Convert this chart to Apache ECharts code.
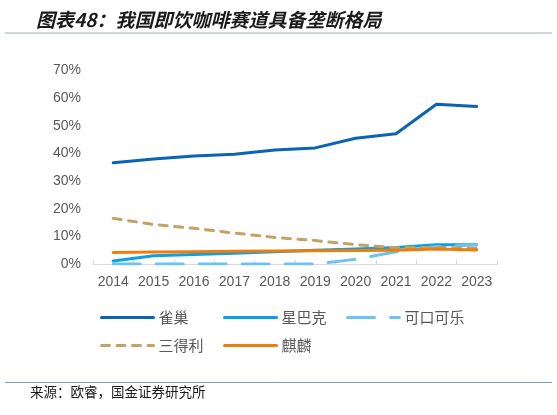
<!DOCTYPE html>
<html>
<head>
<meta charset="utf-8">
<script src="https://cdn.jsdelivr.net/npm/echarts@6/dist/echarts.min.js"></script>
<style>
html,body{margin:0;padding:0;background:#fff;}
#c{width:557px;height:415px;}
</style>
</head>
<body>
<div id="c"></div>
<script>
var years = ['2014','2015','2016','2017','2018','2019','2020','2021','2022','2023'];
var nestle   = [36.6, 38.0, 39.1, 39.7, 41.2, 42.0, 45.5, 47.1, 57.8, 57.0];
var starbucks= [1.1, 3.0, 3.4, 3.9, 4.4, 5.0, 5.4, 6.0, 7.0, 7.0];
var cocacola = [0, 0, 0, 0, 0, 0, 1.7, 4.4, 6.3, 7.0];
var suntory  = [16.5, 14.3, 12.9, 11.2, 9.6, 8.5, 7.0, 5.9, 6.0, 5.7];
var kirin    = [4.2, 4.3, 4.4, 4.6, 4.7, 4.8, 4.9, 5.0, 5.4, 5.1];
var seriesNames = ['雀巢', '星巴克', '可口可乐', '三得利', '麒麟'];

var chart = echarts.init(document.getElementById('c'));
var FONT = 'Liberation Sans, Arial, sans-serif';
var CJK = '"Noto Sans CJK SC", sans-serif';
function ser(name, data, color, type, z) {
  return {
    name: name, type: 'line', data: data, symbol: 'none', z: z,
    lineStyle: {color: color, width: 3, type: type, cap: 'round', join: 'round'},
    itemStyle: {color: color}
  };
}
var legendPos = [[100, 310], [223, 310], [346, 310], [100, 338], [223, 338]];
var legends = seriesNames.map(function (n, i) {
  return {
    data: [n], left: legendPos[i][0], top: legendPos[i][1], padding: 0,
    itemWidth: 52, itemHeight: 14, itemGap: 4,
    itemStyle: {opacity: 0},
    lineStyle: {width: 3},
    textStyle: {color: '#595959', fontSize: 15, fontFamily: CJK}
  };
});
chart.setOption({
  animation: false,
  textStyle: {fontFamily: FONT},
  title: {
    text: '图表48：我国即饮咖啡赛道具备垄断格局',
    left: 31, top: 5,
    textStyle: {fontFamily: CJK, fontSize: 19, fontWeight: 'bold', fontStyle: 'italic', color: '#1a1a1a'}
  },
  graphic: [
    {type: 'line', shape: {x1: 5, y1: 33, x2: 552, y2: 33}, style: {stroke: '#9bb1c6', lineWidth: 1}},
    {type: 'line', shape: {x1: 5, y1: 382.5, x2: 552, y2: 382.5}, style: {stroke: '#8197ab', lineWidth: 1}},
    {type: 'text', left: 30, top: 385, style: {text: '来源：欧睿，国金证券研究所', fontFamily: CJK, fontSize: 13.5, fill: '#1a1a1a'}}
  ],
  grid: {left: 93, right: 60, top: 70.5, bottom: 151},
  xAxis: {
    type: 'category', data: years, boundaryGap: true,
    axisLine: {lineStyle: {color: '#d9d9d9', width: 1}},
    axisTick: {show: true, inside: true, length: 4, lineStyle: {color: '#d9d9d9'}},
    axisLabel: {color: '#595959', fontSize: 14, margin: 11, fontFamily: FONT, interval: 0}
  },
  yAxis: {
    type: 'value', min: 0, max: 70, interval: 10,
    axisLine: {show: false}, axisTick: {show: false}, splitLine: {show: false},
    axisLabel: {color: '#595959', fontSize: 14, margin: 12, fontFamily: FONT, formatter: '{value}%'}
  },
  legend: legends,
  series: [
    ser('雀巢', nestle, '#0a64b4', 'solid', 5),
    ser('星巴克', starbucks, '#0aa0e6', 'solid', 2),
    ser('可口可乐', cocacola, '#6cc2f2', [27, 16], 3),
    ser('三得利', suntory, '#c4a264', [8, 7.5], 4),
    ser('麒麟', kirin, '#ee7d0c', 'solid', 6)
  ]
});
</script>
</body>
</html>
